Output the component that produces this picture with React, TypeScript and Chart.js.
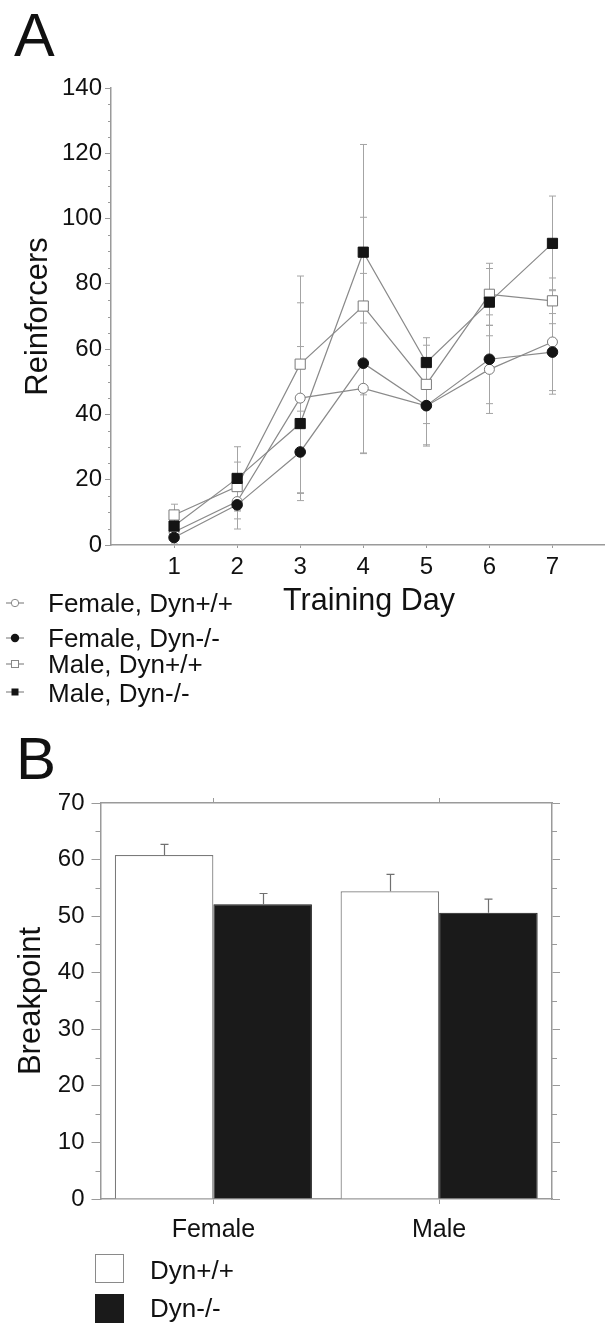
import React, { useEffect, useRef } from 'react';
import { Chart, registerables } from 'chart.js';

Chart.register(...registerables);

const FONT = '"Liberation Sans", Arial, Helvetica, sans-serif';

// ---------- Panel A data ----------
const days = [1, 2, 3, 4, 5, 6, 7];
const femaleWT = [4.0, 13.3, 45.0, 48.0, 42.6, 53.8, 62.2];
const femaleWTErr = [2.5, 8.4, 29.2, 20.0, 12.3, 13.5, 16.0];
const femaleKO = [2.3, 12.3, 28.5, 55.7, 42.7, 56.9, 59.1];
const femaleKOErr = [2.0, 4.3, 12.5, 27.5, 12.0, 13.6, 11.8];
const maleWT = [9.2, 17.9, 55.4, 73.2, 49.2, 76.8, 74.8];
const maleWTErr = [3.3, 7.5, 27.0, 27.2, 12.0, 9.5, 7.0];
const maleKO = [5.8, 20.4, 37.2, 89.7, 55.9, 74.4, 92.4];
const maleKOErr = [3.0, 9.7, 23.6, 33.0, 7.6, 10.3, 14.5];
const seriesLabelsA = ['Female, Dyn+/+', 'Female, Dyn-/-', 'Male, Dyn+/+', 'Male, Dyn-/-'];
const yTicksA = [0, 20, 40, 60, 80, 100, 120, 140];
const xTitleA = 'Training Day';

// ---------- Panel B data ----------
const categoriesB = ['Female', 'Male'];
const wtB = [60.8, 54.4];
const wtBErr = [1.9, 3.0];
const koB = [52.1, 50.6];
const koBErr = [1.9, 2.4];
const seriesLabelsB = ['Dyn+/+', 'Dyn-/-'];

const AXIS = '#9a9a9a';
const LINE = '#8a8a8a';
const TEXT = '#111';
const DARK = '#141414';

const errorBarsA = {
  id: 'errorBarsA',
  beforeDatasetsDraw(chart: any) {
    const { ctx, scales } = chart;
    const x = scales.x, y = scales.y;
    ctx.save();
    ctx.strokeStyle = '#a4a4a4';
    ctx.lineWidth = 1;
    chart.data.datasets.forEach((ds: any) => {
      ds.data.forEach((p: any, i: number) => {
        const e = ds.errors[i];
        const px = Math.round(x.getPixelForValue(p.x)) + 0.5;
        const t = y.getPixelForValue(p.y + e);
        const b = y.getPixelForValue(Math.max(0, p.y - e));
        ctx.beginPath();
        ctx.moveTo(px, t); ctx.lineTo(px, b);
        ctx.moveTo(px - 3.5, t); ctx.lineTo(px + 3.5, t);
        ctx.moveTo(px - 3.5, b); ctx.lineTo(px + 3.5, b);
        ctx.stroke();
      });
    });
    ctx.restore();
  },
  afterDraw(chart: any) {
    const { ctx, scales, chartArea } = chart;
    const y = scales.y;
    ctx.save();
    ctx.strokeStyle = AXIS;
    ctx.lineWidth = 1;
    for (let v = 5; v < 140; v += 5) {
      if (v % 20 === 0) continue;
      const py = Math.round(y.getPixelForValue(v)) + 0.5;
      ctx.beginPath();
      ctx.moveTo(chartArea.left - 3, py);
      ctx.lineTo(chartArea.left, py);
      ctx.stroke();
    }
    ctx.restore();
  },
};

const errorBarsB = {
  id: 'errorBarsB',
  afterDatasetsDraw(chart: any) {
    const { ctx, scales } = chart;
    const y = scales.y;
    ctx.save();
    ctx.strokeStyle = '#707070';
    ctx.lineWidth = 1.2;
    chart.data.datasets.forEach((ds: any, di: number) => {
      const meta = chart.getDatasetMeta(di);
      ds.data.forEach((v: number, i: number) => {
        const px = Math.round(meta.data[i].x) + 0.5;
        const base = y.getPixelForValue(v);
        const t = y.getPixelForValue(v + ds.errors[i]);
        ctx.beginPath();
        ctx.moveTo(px, base); ctx.lineTo(px, t);
        ctx.moveTo(px - 4, t); ctx.lineTo(px + 4, t);
        ctx.stroke();
      });
    });
    ctx.restore();
  },
  afterDraw(chart: any) {
    const { ctx, scales, chartArea } = chart;
    const y = scales.y;
    ctx.save();
    ctx.strokeStyle = AXIS;
    ctx.lineWidth = 1;
    for (let v = 5; v < 70; v += 10) {
      const py = Math.round(y.getPixelForValue(v)) + 0.5;
      ctx.beginPath();
      ctx.moveTo(chartArea.left - 5, py); ctx.lineTo(chartArea.left, py);
      ctx.moveTo(chartArea.right, py); ctx.lineTo(chartArea.right + 5, py);
      ctx.stroke();
    }
    ctx.restore();
  },
};

function ChartA() {
  const ref = useRef<HTMLCanvasElement>(null);
  useEffect(() => {
    const toPts = (arr: number[]) => arr.map((v, i) => ({ x: days[i], y: v }));
    const mk = (label: string, vals: number[], errs: number[], style: string, fill: string, border: string, r: number) => ({
      label,
      data: toPts(vals),
      errors: errs,
      borderColor: LINE,
      borderWidth: 1.2,
      pointStyle: style,
      pointRadius: r,
      pointBackgroundColor: fill,
      pointBorderColor: border,
      pointBorderWidth: 1,
      fill: false,
      tension: 0,
    });
    const chart = new Chart(ref.current as HTMLCanvasElement, {
      type: 'line',
      data: {
        datasets: [
          mk(seriesLabelsA[1], femaleKO, femaleKOErr, 'circle', DARK, DARK, 5.3),
          mk(seriesLabelsA[3], maleKO, maleKOErr, 'rect', DARK, DARK, 7.2),
          mk(seriesLabelsA[0], femaleWT, femaleWTErr, 'circle', '#fff', '#7a7a7a', 5),
          mk(seriesLabelsA[2], maleWT, maleWTErr, 'rect', '#fff', '#7a7a7a', 7.2),
        ] as any,
      },
      options: {
        animation: false,
        responsive: false,
        layout: { padding: { top: 88, left: 0, right: 0, bottom: 0 } },
        plugins: { legend: { display: false }, tooltip: { enabled: false } },
        scales: {
          x: {
            type: 'linear',
            min: 0,
            max: 7.83,
            afterFit: (s: any) => { s.height = 80; },
            afterBuildTicks: (s: any) => { s.ticks = days.map((v) => ({ value: v })); },
            grid: { drawOnChartArea: false, drawTicks: true, tickLength: 3, color: AXIS },
            border: { color: AXIS, width: 1.5 },
            ticks: { font: { family: FONT, size: 24 }, color: TEXT, padding: 5, maxRotation: 0, autoSkip: false },
            title: { display: false },
          },
          y: {
            type: 'linear',
            min: 0,
            max: 140,
            afterFit: (s: any) => { s.width = 111; },
            afterBuildTicks: (s: any) => { s.ticks = yTicksA.map((v) => ({ value: v })); },
            grid: { drawOnChartArea: false, drawTicks: true, tickLength: 6, color: AXIS },
            border: { color: AXIS, width: 1.5 },
            ticks: { font: { family: FONT, size: 24 }, color: TEXT, padding: 3 },
            title: { display: true, text: 'Reinforcers', font: { family: FONT, size: 31 }, color: TEXT, padding: { top: 20, bottom: 0 } },
          },
        },
      } as any,
      plugins: [errorBarsA],
    });
    return () => chart.destroy();
  }, []);
  return <canvas ref={ref} width={613} height={625} style={{ position: 'absolute', left: 0, top: 0, display: 'block' }} />;
}

function ChartB() {
  const ref = useRef<HTMLCanvasElement>(null);
  useEffect(() => {
    const chart = new Chart(ref.current as HTMLCanvasElement, {
      type: 'bar',
      data: {
        labels: categoriesB,
        datasets: [
          { label: seriesLabelsB[0], data: wtB, errors: wtBErr, backgroundColor: '#fff', borderColor: '#7a7a7a', borderWidth: 1.2, categoryPercentage: 0.873, barPercentage: 1 },
          { label: seriesLabelsB[1], data: koB, errors: koBErr, backgroundColor: '#1a1a1a', borderColor: '#1a1a1a', borderWidth: 1, categoryPercentage: 0.873, barPercentage: 1 },
        ] as any,
      },
      options: {
        animation: false,
        responsive: false,
        layout: { padding: { top: 0, left: 0, right: 0, bottom: 0 } },
        plugins: { legend: { display: false }, tooltip: { enabled: false } },
        scales: {
          x: {
            type: 'category',
            position: 'bottom',
            offset: true,
            afterFit: (s: any) => { s.height = 129; },
            grid: { offset: false, drawOnChartArea: false, tickLength: 5, color: AXIS },
            border: { color: AXIS, width: 1.5 },
            ticks: { font: { family: FONT, size: 25 }, color: TEXT, padding: 11 },
          },
          x2: {
            type: 'category',
            position: 'top',
            offset: true,
            afterFit: (s: any) => { s.height = 83; },
            grid: { offset: false, drawOnChartArea: false, tickLength: 5, color: AXIS },
            border: { color: AXIS, width: 1.5 },
            ticks: { display: false },
          },
          y: {
            type: 'linear',
            position: 'left',
            min: 0,
            max: 70,
            afterFit: (s: any) => { s.width = 100.5; },
            ticks: { stepSize: 10, font: { family: FONT, size: 24 }, color: TEXT, padding: 7 },
            grid: { drawOnChartArea: false, tickLength: 9, color: AXIS },
            border: { color: AXIS, width: 1.5 },
            title: { display: true, text: 'Breakpoint', font: { family: FONT, size: 31 }, color: TEXT, padding: { top: 13, bottom: 0 } },
          },
          y2: {
            type: 'linear',
            position: 'right',
            min: 0,
            max: 70,
            afterFit: (s: any) => { s.width = 61; },
            ticks: { stepSize: 10, display: false },
            grid: { drawOnChartArea: false, tickLength: 8, color: AXIS },
            border: { color: AXIS, width: 1.5 },
          },
        },
      } as any,
      plugins: [errorBarsB],
    });
    return () => chart.destroy();
  }, []);
  return <canvas ref={ref} width={613} height={608} style={{ position: 'absolute', left: 0, top: 720, display: 'block' }} />;
}

const legendRowsA = [603, 637.7, 664, 692.3];

function Marker({ i }: { i: number }) {
  const line = <line x1={6} x2={24} y1={10} y2={10} stroke={LINE} strokeWidth={1.2} />;
  let m = null;
  if (i === 0) m = <circle cx={15} cy={10} r={3.7} fill="#fff" stroke="#888" strokeWidth={1} />;
  if (i === 1) m = <circle cx={15} cy={10} r={4.2} fill={DARK} />;
  if (i === 2) m = <rect x={11.5} y={6.5} width={7} height={7} fill="#fff" stroke="#888" strokeWidth={1} />;
  if (i === 3) m = <rect x={11.5} y={6.5} width={7} height={7} fill={DARK} />;
  return (
    <svg width={30} height={20} style={{ position: 'absolute', left: 0, top: legendRowsA[i] - 10 }}>
      {line}
      {m}
    </svg>
  );
}

export default function App() {
  const txt = (size: number): React.CSSProperties => ({
    position: 'absolute', fontFamily: FONT, fontSize: size, lineHeight: 1, color: TEXT, whiteSpace: 'nowrap', margin: 0,
  });
  return (
    <div style={{ position: 'absolute', left: 0, top: 0, width: 613, height: 1328, background: '#fff', overflow: 'hidden' }}>
      <ChartA />
      <ChartB />
      <div style={{ ...txt(61), left: 14, top: 4.7 }}>A</div>
      <div style={{ ...txt(60), left: 16, top: 729 }}>B</div>
      <div style={{ ...txt(30.5), left: 369, top: 584, transform: 'translateX(-50%)' }}>{xTitleA}</div>
      {seriesLabelsA.map((l, i) => (
        <React.Fragment key={l}>
          <Marker i={i} />
          <div style={{ ...txt(26), left: 48, top: legendRowsA[i] - 12.7 }}>{l}</div>
        </React.Fragment>
      ))}
      <div style={{ position: 'absolute', left: 95, top: 1254, width: 29, height: 29, boxSizing: 'border-box', border: '1.5px solid #8a8a8a', background: '#fff' }} />
      <div style={{ position: 'absolute', left: 95, top: 1294, width: 29, height: 29, background: '#1a1a1a' }} />
      <div style={{ ...txt(26), left: 150, top: 1257 }}>{seriesLabelsB[0]}</div>
      <div style={{ ...txt(26), left: 150, top: 1295 }}>{seriesLabelsB[1]}</div>
    </div>
  );
}
